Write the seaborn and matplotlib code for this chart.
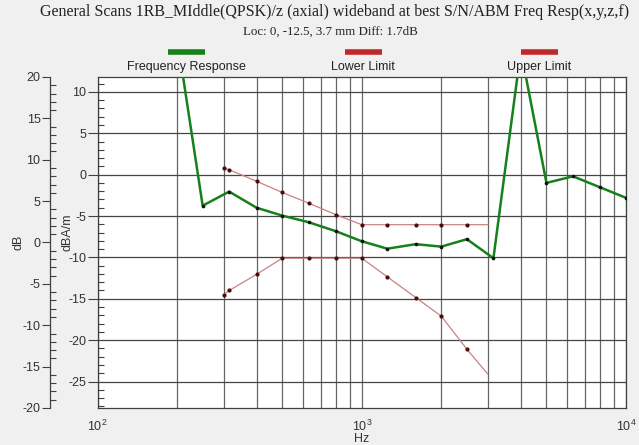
import numpy as np
import pandas as pd
import seaborn as sns
import matplotlib.pyplot as plt
from matplotlib.lines import Line2D
from matplotlib.ticker import MultipleLocator, LogLocator, NullFormatter

# ---------- data ----------
resp_hz = [200, 250, 315, 400, 500, 630, 800, 1000, 1250, 1600, 2000,
           2500, 3150, 4000, 5000, 6300, 8000, 10000]
resp_dba = [16.6, -3.75, -2.05, -4.0, -4.95, -5.75, -6.85, -8.05, -8.95,
            -8.4, -8.7, -7.8, -10.1, 15.0, -1.0, -0.2, -1.55, -2.8]

limit_hz = [300, 315, 400, 500, 630, 800, 1000, 1250, 1600, 2000, 2500, 3000]
upper_dba = [0.8, 0.6, -0.8, -2.15, -3.45, -4.85, -6.05, -6.05, -6.05,
             -6.05, -6.05, -6.05]
lower_dba = [-14.5, -14.0, -12.05, -10.1, -10.1, -10.1, -10.1, -12.35,
             -14.85, -17.1, -21.1, -24.1]

title = 'General Scans 1RB_MIddle(QPSK)/z (axial) wideband at best S/N/ABM Freq Resp(x,y,z,f)'
subtitle = 'Loc: 0, -12.5, 3.7 mm Diff: 1.7dB'
legend_labels = ['Frequency Response', 'Lower Limit', 'Upper Limit']

# ---------- style ----------
GREEN = '#16801a'
RED = '#c0282c'
LIMIT = '#c88282'
DOT = '#4a0c0c'
BG = '#f0f0f0'

sns.set_style('white')
plt.rcParams['font.family'] = ['Liberation Sans', 'DejaVu Sans']
plt.rcParams['mathtext.default'] = 'regular'
plt.rcParams['axes.unicode_minus'] = False
plt.rcParams['axes.edgecolor'] = '#404040'

fig = plt.figure(figsize=(6.39, 4.45), dpi=100, facecolor=BG)
ax = fig.add_axes([97.5 / 639, 37 / 445, 528.5 / 639, 331 / 445])
ax.set_facecolor('white')

# ---------- lines ----------
resp = pd.DataFrame({'hz': resp_hz, 'dba': resp_dba})
upper = pd.DataFrame({'hz': limit_hz, 'dba': upper_dba})
lower = pd.DataFrame({'hz': limit_hz, 'dba': lower_dba})

sns.lineplot(data=upper, x='hz', y='dba', color=LIMIT, lw=0.9, ax=ax)
sns.lineplot(data=lower, x='hz', y='dba', color=LIMIT, lw=0.9, ax=ax)
# no dot on the 3 kHz end point of the limits
sns.scatterplot(data=upper.iloc[:-1], x='hz', y='dba', color=DOT, s=9,
                linewidth=0, ax=ax, zorder=4)
sns.scatterplot(data=lower.iloc[:-1], x='hz', y='dba', color=DOT, s=9,
                linewidth=0, ax=ax, zorder=4)
sns.lineplot(data=resp, x='hz', y='dba', color=GREEN, lw=1.8, ax=ax, zorder=5)
sns.scatterplot(data=resp, x='hz', y='dba', color='#101010', s=7,
                linewidth=0, ax=ax, zorder=6)

# ---------- axes ----------
ax.set_xscale('log')
ax.set_xlim(100, 10000)
ax.xaxis.set_minor_locator(LogLocator(base=10, subs=np.arange(2, 10)))
ax.xaxis.set_minor_formatter(NullFormatter())
ax.yaxis.set_minor_locator(MultipleLocator(1))
ax.set_yticks(np.arange(-25, 11, 5))
ax.set_ylim(-28.2, 11.8)
ax.grid(True, which='major', axis='y', color='#454545', lw=0.9)
ax.grid(True, which='both', axis='x', color='#666666', lw=0.9)
ax.set_axisbelow(True)
ax.tick_params(axis='x', which='major', direction='out', length=4, width=0.8,
               labelsize=9, pad=4, colors='#404040', labelcolor='#333333')
ax.tick_params(axis='x', which='minor', length=0)
ax.tick_params(axis='y', which='major', direction='out', length=7, width=0.8,
               labelsize=9, pad=1, colors='#404040', labelcolor='#333333')
ax.tick_params(axis='y', which='minor', direction='in', length=4, width=0.8,
               colors='#404040')
ax.set_xlabel('Hz', fontsize=9, labelpad=-1, color='#333333')
ax.set_ylabel('dBA/m', fontsize=9, color='#333333')
ax.yaxis.set_label_coords(-0.046, 0.53)
for s in ax.spines.values():
    s.set_linewidth(0.9)

# outer dB axis
ax_db = ax.twinx()
ax_db.set_ylim(-20, 20)
ax_db.yaxis.tick_left()
ax_db.yaxis.set_label_position('left')
for s in ['top', 'right', 'bottom']:
    ax_db.spines[s].set_visible(False)
ax_db.spines['left'].set_position(('outward', 34))
ax_db.spines['left'].set_linewidth(0.9)
ax_db.yaxis.set_major_locator(MultipleLocator(5))
ax_db.yaxis.set_minor_locator(MultipleLocator(1))
ax_db.tick_params(axis='y', which='major', direction='out', length=6, width=0.8,
                  labelsize=9, pad=1, colors='#404040', labelcolor='#333333')
ax_db.tick_params(axis='y', which='minor', direction='in', length=4, width=0.8,
                  colors='#404040')
ax_db.set_ylabel('dB', fontsize=9, color='#333333')
ax_db.yaxis.set_label_coords(-0.138, 0.5)

# ---------- titles ----------
fig.text(0.523, 0.972, title, ha='center', va='center', fontsize=11.5,
         family='Liberation Serif', color='#222222')
fig.text(0.517, 0.928, subtitle, ha='center', va='center', fontsize=9.3,
         family='Liberation Serif', color='#222222')

# ---------- legend (bar above label) ----------
for lab, col, xc in zip(legend_labels, [GREEN, RED, RED], [186, 363, 539]):
    fig.add_artist(Line2D([(xc - 18.5) / 639, (xc + 18.5) / 639],
                          [1 - 52 / 445, 1 - 52 / 445], color=col, lw=4,
                          transform=fig.transFigure, solid_capstyle='butt'))
    fig.text(xc / 639, 1 - 67 / 445, lab, ha='center', va='center',
             fontsize=9, color='#222222')

fig.savefig('out.png', dpi=100, facecolor=BG)
